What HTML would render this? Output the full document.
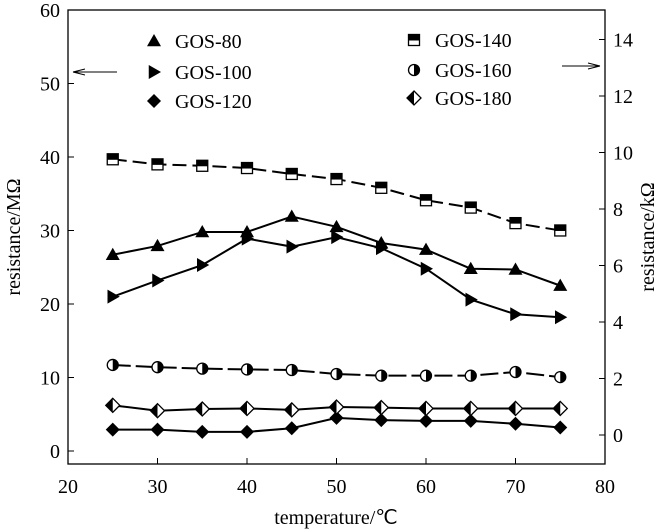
<!DOCTYPE html>
<html><head><meta charset="utf-8"><style>
body{margin:0;background:#fff}
svg{display:block;font-family:"Liberation Serif",serif}
</style></head><body>
<svg id="c" width="659" height="531"></svg>
<script>
const temps=[25,30,35,40,45,50,55,60,65,70,75];
const gos80=[26.7,27.9,29.8,29.8,31.9,30.5,28.3,27.4,24.8,24.7,22.5];
const gos100=[21,23.2,25.3,28.9,27.8,29.1,27.6,24.8,20.6,18.6,18.2];
const gos120=[2.9,2.9,2.6,2.6,3.1,4.5,4.2,4.1,4.1,3.7,3.2];
const gos140=[9.76,9.58,9.53,9.45,9.24,9.06,8.75,8.31,8.05,7.5,7.24];
const gos160=[2.48,2.4,2.35,2.32,2.3,2.16,2.1,2.1,2.1,2.23,2.05];
const gos180=[1.05,0.86,0.92,0.94,0.89,0.99,0.97,0.94,0.94,0.94,0.94];
const xTicks=[20,30,40,50,60,70,80];
const yLTicks=[0,10,20,30,40,50,60];
const yRTicks=[0,2,4,6,8,10,12,14];
const NS="http://www.w3.org/2000/svg";
const svg=document.getElementById('c');
const L=68,R=605,T=10,B=464;
const x=v=>L+(v-20)*(R-L)/60;
const yL=v=>451-v*7.35;
const yR=v=>435-v*28.25;
function mk(t,a,p){const e=document.createElementNS(NS,t);for(const k in a)e.setAttribute(k,a[k]);(p||svg).appendChild(e);return e;}
let e=mk('rect',{x:L,y:T,width:R-L,height:B-T,fill:'none',stroke:'#000','stroke-width':1.3});


xTicks.forEach(t=>{
 e=mk('line',{x1:x(t),x2:x(t),y1:B,y2:B-6,stroke:'#000'});
 
 
 e=mk('text',{x:x(t),y:B+29,'font-size':20,'text-anchor':'middle'});e.textContent=t;
 
 
});
yLTicks.forEach(t=>{
 e=mk('line',{x1:L,x2:L+6,y1:yL(t),y2:yL(t),stroke:'#000'});
 
 
 e=mk('text',{x:L-8,y:yL(t)+7,'font-size':20,'text-anchor':'end'});e.textContent=t;
 
 
});
yRTicks.forEach(t=>{
 e=mk('line',{x1:R,x2:R-6,y1:yR(t),y2:yR(t),stroke:'#000'});
 
 
 e=mk('text',{x:R+8,y:yR(t)+7,'font-size':20});e.textContent=t;
 
 
});
e=mk('text',{x:336,y:524,'font-size':20,'text-anchor':'middle'});e.textContent='temperature/℃';


e=mk('text',{x:0,y:0,'font-size':20,'text-anchor':'middle',transform:'translate(20,237) rotate(-90)'});e.textContent='resistance/MΩ';


e=mk('text',{x:0,y:0,'font-size':20,'text-anchor':'middle',transform:'translate(654,237) rotate(-90)'});e.textContent='resistance/kΩ';


function arrow(x1,x2,y,name){
 const g=mk('g',{});
 
 
 mk('line',{x1:x1,x2:x2,y1:y,y2:y,stroke:'#000','stroke-width':1},g);
 const d=x2<x1?1:-1;
 mk('path',{d:`M${x2} ${y} L${x2+d*12} ${y-3} M${x2} ${y} L${x2+d*12} ${y+3}`,stroke:'#000',fill:'none'},g);
}
arrow(117,73,72,'left-axis-arrow');
arrow(562,600,66,'right-axis-arrow');
function marker(g,type,cx,cy){
 const s=7;
 if(type==='tri')mk('path',{d:`M${cx} ${cy-s} L${cx+s} ${cy+s*0.75} L${cx-s} ${cy+s*0.75}Z`,fill:'#000'},g);
 else if(type==='rtri')mk('path',{d:`M${cx+s} ${cy} L${cx-s*0.75} ${cy-s} L${cx-s*0.75} ${cy+s}Z`,fill:'#000'},g);
 else if(type==='dia')mk('path',{d:`M${cx} ${cy-s} L${cx+s} ${cy} L${cx} ${cy+s} L${cx-s} ${cy}Z`,fill:'#000'},g);
 else if(type==='sq'){mk('rect',{x:cx-5.5,y:cy-5.5,width:11,height:11,fill:'#fff',stroke:'#000','stroke-width':1.3},g);mk('rect',{x:cx-5.5,y:cy-5.5,width:11,height:6,fill:'#000'},g);}
 else if(type==='circ'){mk('circle',{cx:cx,cy:cy,r:5.5,fill:'#fff',stroke:'#000','stroke-width':1.3},g);mk('path',{d:`M${cx} ${cy-5.5} A5.5 5.5 0 0 1 ${cx} ${cy+5.5}Z`,fill:'#000'},g);}
 else if(type==='hdia'){mk('path',{d:`M${cx} ${cy-s} L${cx+s} ${cy} L${cx} ${cy+s} L${cx-s} ${cy}Z`,fill:'#fff',stroke:'#000','stroke-width':1.3},g);mk('path',{d:`M${cx} ${cy-s} L${cx} ${cy+s} L${cx-s} ${cy}Z`,fill:'#000'},g);}
}
const series=[
 {name:'gos-80',vals:gos80,ys:yL,m:'tri',dash:''},
 {name:'gos-100',vals:gos100,ys:yL,m:'rtri',dash:''},
 {name:'gos-120',vals:gos120,ys:yL,m:'dia',dash:''},
 {name:'gos-140',vals:gos140,ys:yR,m:'sq',dash:'14 6'},
 {name:'gos-160',vals:gos160,ys:yR,m:'circ',dash:'18 5'},
 {name:'gos-180',vals:gos180,ys:yR,m:'hdia',dash:''}
];
series.forEach(s=>{
 const g=mk('g',{});
 
 
 const pts=temps.map((t,i)=>x(t)+','+s.ys(s.vals[i])).join(' ');
 const a={points:pts,fill:'none',stroke:'#000','stroke-width':2};
 if(s.dash)a['stroke-dasharray']=s.dash;
 mk('polyline',a,g);
 temps.forEach((t,i)=>marker(g,s.m,x(t),s.ys(s.vals[i])));
});
const legend=[['tri','GOS-80',154,41],['rtri','GOS-100',154,72],['dia','GOS-120',154,101],['sq','GOS-140',414,40],['circ','GOS-160',414,70],['hdia','GOS-180',414,98]];
legend.forEach(l=>{
 const g=mk('g',{});
 
 
 marker(g,l[0],l[2],l[3]);
 const t=mk('text',{x:l[2]+21,y:l[3]+7,'font-size':20},g);t.textContent=l[1];
});
</script>
</body></html>
